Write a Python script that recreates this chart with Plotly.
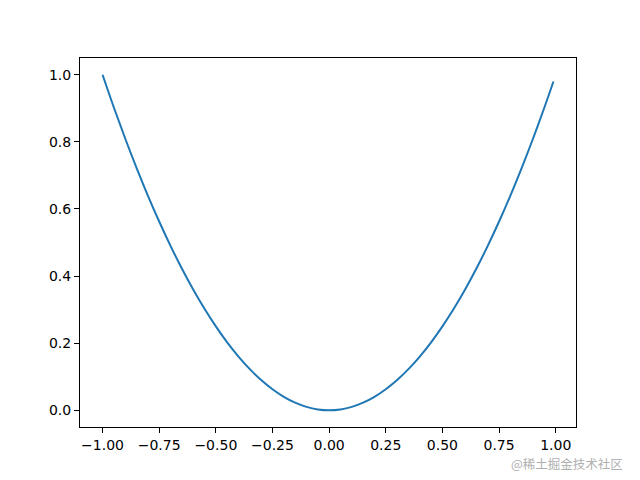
import plotly.graph_objects as go

x_vals = [-1.00, -0.95, -0.90, -0.85, -0.80, -0.75, -0.70, -0.65, -0.60, -0.55,
          -0.50, -0.45, -0.40, -0.35, -0.30, -0.25, -0.20, -0.15, -0.10, -0.05,
          0.00, 0.05, 0.10, 0.15, 0.20, 0.25, 0.30, 0.35, 0.40, 0.45,
          0.50, 0.55, 0.60, 0.65, 0.70, 0.75, 0.80, 0.85, 0.90, 0.95, 0.99]
y_vals = [1.00, 0.9025, 0.81, 0.7225, 0.64, 0.5625, 0.49, 0.4225, 0.36, 0.3025,
          0.25, 0.2025, 0.16, 0.1225, 0.09, 0.0625, 0.04, 0.0225, 0.01, 0.0025,
          0.00, 0.0025, 0.01, 0.0225, 0.04, 0.0625, 0.09, 0.1225, 0.16, 0.2025,
          0.25, 0.3025, 0.36, 0.4225, 0.49, 0.5625, 0.64, 0.7225, 0.81, 0.9025, 0.98]
x_ticks = [-1.00, -0.75, -0.50, -0.25, 0.00, 0.25, 0.50, 0.75, 1.00]
x_tick_labels = ["\u22121.00", "\u22120.75", "\u22120.50", "\u22120.25", "0.00", "0.25", "0.50", "0.75", "1.00"]
y_ticks = [0.0, 0.2, 0.4, 0.6, 0.8, 1.0]
y_tick_labels = ["0.0", "0.2", "0.4", "0.6", "0.8", "1.0"]
watermark = "@稀土掘金技术社区"

fig = go.Figure()
fig.add_trace(go.Scatter(x=x_vals, y=y_vals, mode="lines",
                         line=dict(color="#1f77b4", width=2, shape="spline"),
                         showlegend=False, hoverinfo="skip"))

axis_common = dict(showline=True, linecolor="black", linewidth=1, mirror=True,
                   ticks="outside", ticklen=5, tickwidth=1, tickcolor="black",
                   showgrid=False, zeroline=False,
                   tickfont=dict(family="DejaVu Sans", size=14, color="black"))

fig.update_xaxes(range=[-1.0995, 1.0895], tickvals=x_ticks, ticktext=x_tick_labels, **axis_common)
fig.update_yaxes(range=[-0.05, 1.05], tickvals=y_ticks, ticktext=y_tick_labels, **axis_common)

fig.add_annotation(text=watermark, xref="paper", yref="paper", x=1.097, y=-0.1,
                   xanchor="right", yanchor="middle", showarrow=False, borderpad=0,
                   font=dict(family="Noto Sans CJK SC", size=12.5, color="#b0b0b0"))

# page body adds an 8px offset; shrink the figure so the axes land where the reference has them
fig.update_layout(width=632, height=472, margin=dict(l=72, r=64, t=50, b=53),
                  plot_bgcolor="white", paper_bgcolor="white")

fig.write_html("out.html")
